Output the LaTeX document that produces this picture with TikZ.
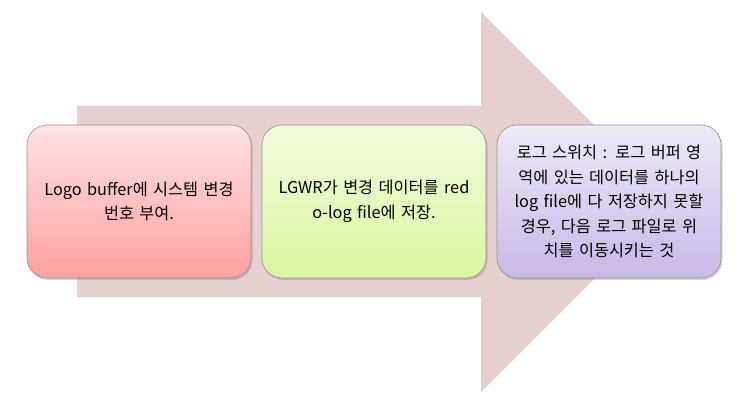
\documentclass[tikz,border=0pt]{standalone}
\usepackage{fontspec}
\setmainfont{Noto Sans CJK KR}
\usetikzlibrary{shadows}

\definecolor{arrowfill}{HTML}{E6CFCF}
\definecolor{boxline}{HTML}{9A8F8F}

\tikzset{
  stepbox/.style={draw=boxline, line width=0.6pt, rounded corners=20pt,
    minimum width=224pt, minimum height=153pt, align=center,
    text width=215pt, inner sep=0pt,
    font=\fontsize{16.3}{24.5}\selectfont,
    drop shadow={shadow xshift=1.5pt, shadow yshift=-2pt, opacity=0.35, fill=gray}}
}

\begin{document}
\begin{tikzpicture}[x=1pt, y=1pt]
    \useasboundingbox (0,0) rectangle (739,415);

    % Big arrow
    \fill[arrowfill] (77,309) -- (481,309) -- (481,403) -- (671,213)
        -- (481,23) -- (481,118) -- (77,118) -- cycle;

    % Steps
    \node[stepbox, top color={rgb,255:red,255;green,226;blue,228}, bottom color={rgb,255:red,255;green,160;blue,160}] (logbuf) at (139,213.5)
        {Logo buffer에 시스템 변경\\번호 부여.};
    \node[stepbox, top color={rgb,255:red,242;green,250;blue,222}, bottom color={rgb,255:red,216;green,247;blue,160}] (lgwr) at (374,213.5)
        {LGWR가 변경 데이터를 red\\o-log file에 저장.};
    \node[stepbox, top color={rgb,255:red,238;green,234;blue,248}, bottom color={rgb,255:red,200;green,184;blue,230}] (switch) at (609,213.5)
        {로그 스위치 : 로그 버퍼 영\\역에 있는 데이터를 하나의\\log file에 다 저장하지 못할\\경우, 다음 로그 파일로 위\\치를 이동시키는 것};
\end{tikzpicture}
\end{document}
